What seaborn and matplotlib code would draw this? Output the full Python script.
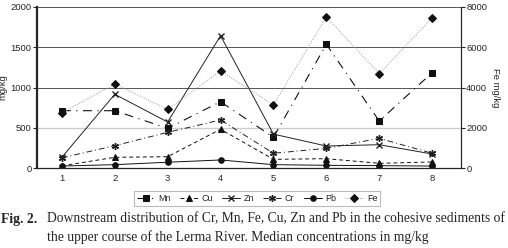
import matplotlib
matplotlib.use("Agg")
import matplotlib.pyplot as plt
import seaborn as sns
import pandas as pd
import numpy as np

# ==============================
# Data (median concentrations, mg/kg)
# ==============================
sites = [1, 2, 3, 4, 5, 6, 7, 8]
mn = [713, 713, 495, 824, 384, 1535, 585, 1183]
cu = [30, 136, 144, 483, 111, 119, 62, 78]
zn = [136, 916, 573, 1641, 423, 276, 292, 177]
cr = [130, 280, 445, 598, 186, 247, 371, 186]
pb = [28, 45, 75, 103, 45, 37, 33, 28]
fe = [2750, 4170, 2920, 4820, 3130, 7500, 4680, 7450]

left_ticks = [0, 500, 1000, 1500, 2000]
right_ticks = [0, 2000, 4000, 6000, 8000]

sns.set_style("white")
plt.rcParams['font.family'] = ['Liberation Sans', 'DejaVu Sans']

fig = plt.figure(figsize=(5.08, 2.48), dpi=100)
ax = fig.add_axes([37/508, 1 - 168.3/248, (460.7-37)/508, (168.3-6.7)/248])
ax2 = ax.twinx()

styles = [
    ("Mn", mn, dict(color="#111111", ls=(0, (8, 5, 1, 5)), lw=0.8, marker="s", ms=5)),
    ("Cu", cu, dict(color="#111111", ls=(0, (4, 3)), lw=0.7, marker="^", ms=4)),
    ("Zn", zn, dict(color="#222222", ls="-", lw=0.7, marker="x", ms=4.5, mew=1)),
    ("Cr", cr, dict(color="#222222", ls=(0, (6, 3, 1, 3)), lw=0.7, marker=(6, 2, 0), ms=5, mew=1)),
    ("Pb", pb, dict(color="#111111", ls="-", lw=0.7, marker="o", ms=4)),
]

for name, vals, kw in styles:
    df = pd.DataFrame({"site": sites, "val": vals})
    sns.lineplot(data=df, x="site", y="val", ax=ax, label=name, legend=False,
                 markeredgecolor=kw["color"], **kw)
df_fe = pd.DataFrame({"site": sites, "val": fe})
sns.lineplot(data=df_fe, x="site", y="val", ax=ax2, label="Fe", legend=False,
             color="#111111", ls=":", lw=0.7, marker="D", ms=4,
             markeredgecolor="#111111")
for ln in ax2.get_lines():
    ln.set_linestyle((0, (1, 1.5)))
    ln.set_color("#999999")
    ln.set_markerfacecolor("#111111")
    ln.set_markeredgecolor("#111111")

ax.set_xlim(0.53, 8.54)
ax.set_ylim(0, 2000)
ax2.set_ylim(0, 8000)
ax.set_yticks(left_ticks)
ax2.set_yticks(right_ticks)
ax.set_xticks(sites)
ax.set_xticks(np.arange(1.5, 8.5, 1), minor=True)
ax.tick_params(axis="x", which="major", length=0, labelsize=6.8, pad=4)
ax.tick_params(axis="x", which="minor", length=3, direction="out", color="#333333")
ax.tick_params(axis="y", labelsize=6.8, length=3, direction="out", pad=1)
ax2.tick_params(axis="y", labelsize=6.8, length=3, direction="out", pad=1)
ax.set_xlabel("")
ax.set_ylabel("mg/kg", fontsize=6.8, labelpad=2)
ax2.set_ylabel("Fe mg/kg", fontsize=6.8, rotation=270, labelpad=9)

for y, c in [(500, "#cccccc"), (1000, "#555555"), (1500, "#555555"), (2000, "#555555")]:
    ax.axhline(y, color=c, lw=1.0 if y == 500 else 0.7, zorder=0)

for a in (ax, ax2):
    a.spines["top"].set_visible(False)
ax.spines["left"].set_linewidth(1.6)
ax.spines["bottom"].set_linewidth(0.9)
ax2.spines["right"].set_linewidth(0.8)
ax2.spines["left"].set_visible(False)
ax2.spines["bottom"].set_visible(False)

h1, l1 = ax.get_legend_handles_labels()
h2, l2 = ax2.get_legend_handles_labels()
leg = fig.legend(h1 + h2, l1 + l2, ncol=6, loc="center", bbox_to_anchor=(257/508, 1 - 198.5/248),
                 fontsize=6.5, frameon=True, fancybox=False, edgecolor="#aaaaaa",
                 handlelength=2.0, handletextpad=0.4, columnspacing=1.0, borderpad=0.3)
leg.get_frame().set_linewidth(0.8)

fig.text(0.002, 1 - 219/248, "Fig. 2.", family="Liberation Serif", weight="bold",
         fontsize=9.8, va="center")
fig.text(47/508, 1 - 219/248,
         "Downstream distribution of Cr, Mn, Fe, Cu, Zn and Pb in the cohesive sediments of",
         family="Liberation Serif", fontsize=9.8, va="center")
fig.text(47/508, 1 - 237/248,
         "the upper course of the Lerma River. Median concentrations in mg/kg",
         family="Liberation Serif", fontsize=9.8, va="center")

fig.savefig("out.png", dpi=100)
